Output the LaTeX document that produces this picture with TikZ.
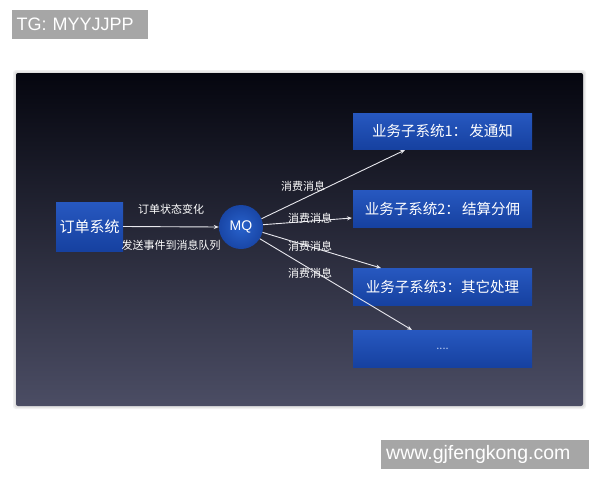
\documentclass[tikz,border=0pt]{standalone}
\usepackage{fontspec}
\setmainfont{Liberation Sans}
\newfontfamily\cjk{Noto Sans CJK SC}
\usetikzlibrary{arrows.meta,shadows}
\definecolor{panelTop}{HTML}{05060F}
\definecolor{panelBot}{HTML}{4B4D64}
\definecolor{boxTop}{HTML}{2758C0}
\definecolor{boxBot}{HTML}{1641A0}
\definecolor{mqIn}{HTML}{2862CC}
\definecolor{mqOut}{HTML}{1946A6}
\definecolor{wm}{HTML}{A6A6A6}
\definecolor{lineC}{HTML}{E8E8EE}
\definecolor{dotC}{HTML}{B8CCF0}
\tikzset{
  sysbox/.style={rectangle, top color=boxTop, bottom color=boxBot, draw=none,
    text=white, font=\cjk\fontsize{14.5}{16}\selectfont, inner sep=0pt},
  mqnode/.style={circle, inner color=mqIn, outer color=mqOut, draw=none, text=white,
    minimum size=44pt, inner sep=0pt, font=\fontsize{14}{16}\selectfont},
  lbl/.style={text=white, font=\cjk\fontsize{11}{13}\selectfont, inner sep=0pt},
  conn/.style={draw=lineC, line width=0.9pt, -{Stealth[length=5pt,width=4pt]}},
  wmark/.style={fill=wm, text=white, inner sep=0pt, anchor=west}
}
\begin{document}
\begin{tikzpicture}[x=1pt,y=-1pt]
\useasboundingbox (0,0) rectangle (600,480);
\fill[white] (0,0) rectangle (600,480);
% panel shadow
\fill[black!6, rounded corners=3pt] (13,70) rectangle (586,409);
\fill[black!12, rounded corners=2pt] (14.5,71.5) rectangle (584.5,407.5);
\shade[top color=panelTop, bottom color=panelBot, rounded corners=2pt] (16,73) rectangle (583,406);
% watermarks
\node[wmark, minimum width=136pt, minimum height=29pt, text width=132pt, align=left,
  font=\fontsize{18}{20}\selectfont] (tg) at (12,24.5) {\hspace*{2.5pt}TG: MYYJJPP};
\node[wmark, minimum width=208pt, minimum height=29pt, text width=204pt, align=left,
  font=\fontsize{19.5}{21}\selectfont] (www) at (381,454.5) {\hspace*{3pt}www.gjfengkong.com};
% nodes
\node[sysbox, minimum width=67pt, minimum height=49pt, font=\cjk\fontsize{15}{17}\selectfont] (order) at (89.5,226.5) {订单系统};
\node[mqnode] (mq) at (241,227) {MQ};
\node[sysbox, minimum width=179pt, minimum height=36pt] (s1) at (442.5,131) {业务子系统1：\,发通知};
\node[sysbox, minimum width=179pt, minimum height=37pt] (s2) at (442.5,208.5) {业务子系统2：\,结算分佣};
\node[sysbox, minimum width=179pt, minimum height=37pt] (s3) at (442.5,286.5) {业务子系统3：其它处理};
\node[sysbox, minimum width=179pt, minimum height=37pt] (s4) at (442.5,348.5) {\raisebox{-3pt}{\textcolor{dotC}{\fontsize{11}{12}\selectfont ....}}};
% connectors
\coordinate (e1) at (405,150);
\coordinate (e2) at (352,218);
\coordinate (e3) at (381,268);
\coordinate (e4) at (412,330);
\draw[conn] (order.east) -- (mq.west);
\draw[conn] (mq.22) -- (e1);
\draw[conn] (mq.6) -- (e2);
\draw[conn] (mq.-14) -- (e3);
\draw[conn] (mq.-32) -- (e4);
% labels
\node[lbl] (l1) at (171,209) {订单状态变化};
\node[lbl] (l2) at (171,245) {发送事件到消息队列};
\node[lbl] (c1) at (303,186) {消费消息};
\node[lbl] (c2) at (310,218) {消费消息};
\node[lbl] (c3) at (310,246) {消费消息};
\node[lbl] (c4) at (310,273) {消费消息};
\end{tikzpicture}
\end{document}
